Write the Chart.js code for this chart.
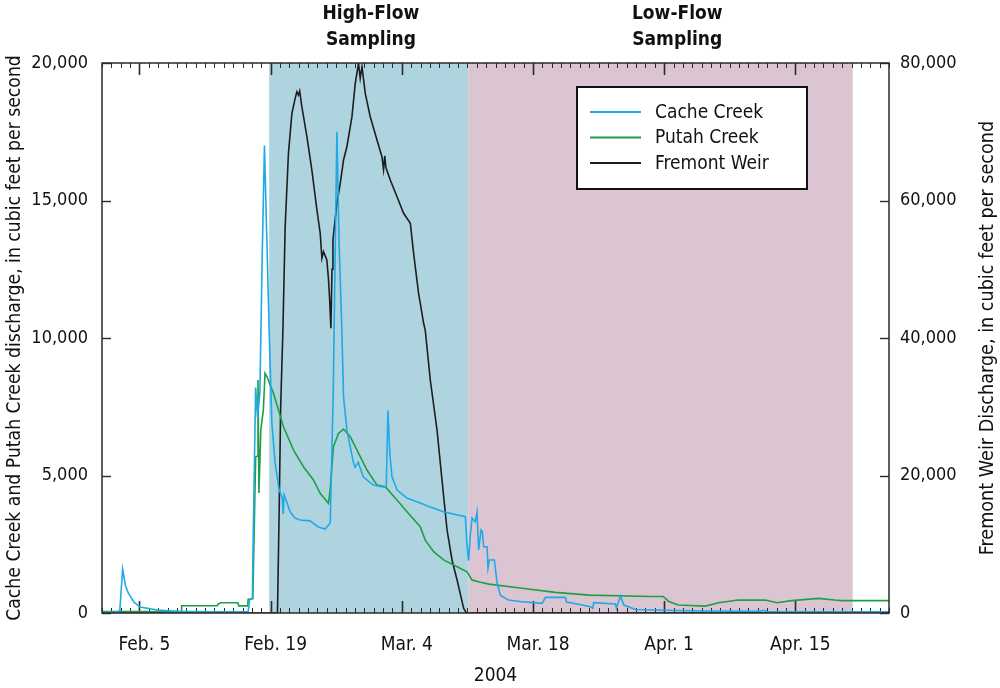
<!DOCTYPE html>
<html>
<head>
<meta charset="utf-8">
<script src="https://cdn.jsdelivr.net/npm/chart.js@4.4.1/dist/chart.umd.min.js"></script>
<style>
html,body{margin:0;padding:0;background:#fff}
#wrap{width:1000px;height:688px;position:relative}
</style>
</head>
<body>
<div id="wrap"><canvas id="c" width="1000" height="688"></canvas></div>
<script>
// ---- Data (x = days since Feb. 1, 2004) ----
const cacheDays = [0,1.5,1.9,2.2,2.5,2.8,3.4,4.06,5.9,8,12,15.6,15.75,16.05,16.15,16.4,16.6,16.85,17.1,17.34,17.6,17.84,18.13,18.48,18.91,19.23,19.34,19.44,20.09,20.6,21.15,22.22,23.08,23.82,24.36,24.68,25.07,25.3,25.6,25.78,26.14,26.85,27.0,27.35,27.88,28.95,30.02,30.34,30.52,30.72,30.95,31.49,32.55,33.97,35.04,36.43,37.5,38.78,38.95,39.13,39.3,39.5,39.85,40.03,40.2,40.46,40.6,40.74,41.1,41.2,41.35,41.88,42.17,42.52,43.38,44.84,46.98,47.33,49.47,49.57,50.72,52.14,52.38,52.49,54.8,54.9,55.34,55.7,56.94,59.08,63.9,70.3,70.6,71,84];
const cacheFlow = [30,30,80,1600,1000,730,400,220,110,60,40,50,470,550,3000,8200,7100,8000,13000,17000,13500,10300,6900,5450,4470,4200,3600,4300,3670,3450,3380,3350,3130,3050,3270,8000,17500,13500,10300,7860,6650,5450,5300,5480,4950,4650,4580,4600,7360,5800,4960,4470,4180,4000,3850,3680,3600,3500,2500,1900,2800,3450,3320,3660,2290,3020,2960,2410,2410,1640,1930,1930,1090,650,470,410,350,570,570,400,330,230,170,375,330,170,620,290,130,110,70,60,100,50,40];

const putahDays = [0,8.45,8.5,12.3,12.4,12.7,14.5,14.6,15.55,15.6,16.1,16.4,16.55,16.65,16.75,16.95,17.22,17.4,17.6,18.3,19.37,20.43,21.5,22.57,23.29,24.17,24.35,24.7,25.24,25.78,26.5,27.2,28.28,29.35,30.24,31.48,32.55,33.97,34.5,35.4,36.46,37.9,38.96,39.5,40.4,41.3,44.84,48.4,52,58.55,59.9,60.5,61.5,64.4,65.8,67.9,70.8,72.04,73.6,76.5,78.2,79,84];
const putahFlow = [50,50,265,265,330,375,375,260,260,500,520,5680,5700,8470,4360,6650,7380,8720,8600,7990,6770,5930,5320,4840,4350,3990,4470,6050,6530,6690,6410,5930,5200,4650,4590,4110,3680,3140,2650,2230,1930,1680,1500,1200,1115,1050,900,750,650,600,600,420,290,250,370,470,470,375,450,530,470,450,450];

const fremontDays = [0,18.73,18.91,19.07,19.31,19.55,19.9,20.27,20.62,20.8,20.97,21.1,21.33,21.87,22.4,22.94,23.29,23.47,23.64,24.0,24.18,24.3,24.43,24.55,24.65,25.07,25.43,25.78,26.14,26.68,27.03,27.38,27.56,27.75,28.1,28.63,29.35,29.88,30.05,30.18,30.3,30.77,31.49,32.19,32.91,33.26,33.79,34.33,34.5,35.04,35.76,36.29,36.83,37.36,37.9,38.6,38.89,84];
const fremontFlow = [0,0,15000,30000,41160,56200,66860,72680,74860,75800,75340,75900,73640,69280,64430,58620,55230,51590,52560,51340,48430,45500,41410,50000,54250,59590,62500,65890,67820,72190,77040,79950,77770,79460,75590,72190,68800,66370,64500,66500,64800,62980,60550,58140,56680,52320,46500,42140,41160,33890,26620,19350,12070,7710,4800,680,0,0];

const xTickDays = [4,18,32,46,60,74];
const xTickLabels = ['Feb. 5','Feb. 19','Mar. 4','Mar. 18','Apr. 1','Apr. 15'];

const phaseNames = [['High-Flow','Sampling'],['Low-Flow','Sampling']];
const phaseStart = [17.84, 39.1];
const phaseEnd = [39.1, 80.13];

const seriesNames = ['Cache Creek','Putah Creek','Fremont Weir'];
const seriesColors = ['#1fa9e6','#1f9e45','#1e1e1e'];

const FONT = "'Liberation Sans Narrow','DejaVu Sans Condensed','Arial Narrow',sans-serif";
const BOLD = "'DejaVu Sans Condensed','Liberation Sans',sans-serif";
const TXT = '#111';

const toXY = (xs, ys) => xs.map((d, i) => ({x: d, y: ys[i]}));

const decor = {
  id: 'decor',
  beforeDatasetsDraw(chart, args, opts) {
    const {ctx, chartArea: ca, scales: {x, y, y2}} = chart;
    ctx.save();
    phaseStart.forEach((s, i) => {
      const x0 = x.getPixelForValue(s), x1 = x.getPixelForValue(phaseEnd[i]);
      ctx.fillStyle = opts.phaseColors[i];
      ctx.fillRect(x0, ca.top, x1 - x0, ca.bottom - ca.top);
    });
    ctx.strokeStyle = '#2a2a2a';
    for (let d = Math.ceil(x.min); d <= x.max; d++) {
      const px = Math.round(x.getPixelForValue(d)) + 0.5;
      const major = xTickDays.includes(d);
      const len = major ? 12 : 5;
      ctx.lineWidth = major ? 1.6 : 1;
      ctx.beginPath();
      ctx.moveTo(px, ca.bottom); ctx.lineTo(px, ca.bottom - len);
      ctx.moveTo(px, ca.top); ctx.lineTo(px, ca.top + len);
      ctx.stroke();
    }
    ctx.lineWidth = 1.4;
    y.ticks.forEach(t => {
      const py = Math.round(y.getPixelForValue(t.value)) + 0.5;
      ctx.beginPath(); ctx.moveTo(ca.left, py); ctx.lineTo(ca.left + 9, py); ctx.stroke();
    });
    y2.ticks.forEach(t => {
      const py = Math.round(y2.getPixelForValue(t.value)) + 0.5;
      ctx.beginPath(); ctx.moveTo(ca.right, py); ctx.lineTo(ca.right - 9, py); ctx.stroke();
    });
    ctx.restore();
  },
  afterDatasetsDraw(chart, args, opts) {
    const {ctx, chartArea: ca} = chart;
    ctx.save();
    ctx.strokeStyle = '#2a2a2a';
    ctx.lineWidth = 1.5;
    ctx.strokeRect(ca.left, ca.top, ca.right - ca.left, ca.bottom - ca.top);
    const bx = ca.left + opts.legendX, by = ca.top + opts.legendY;
    ctx.fillStyle = '#fff';
    ctx.fillRect(bx, by, opts.legendW, opts.legendH);
    ctx.strokeStyle = '#111';
    ctx.lineWidth = 2;
    ctx.strokeRect(bx, by, opts.legendW, opts.legendH);
    ctx.font = '19px ' + FONT;
    ctx.textBaseline = 'middle';
    ctx.textAlign = 'left';
    chart.data.datasets.forEach((ds, i) => {
      const ry = by + 25 + i * 25.5;
      ctx.strokeStyle = ds.borderColor;
      ctx.lineWidth = 2;
      ctx.beginPath(); ctx.moveTo(bx + 13, ry); ctx.lineTo(bx + 64, ry); ctx.stroke();
      ctx.fillStyle = TXT;
      ctx.fillText(ds.label, bx + 78, ry + 1);
    });
    ctx.restore();
  },
  afterDraw(chart, args, opts) {
    const {ctx, chartArea: ca, scales: {x}} = chart;
    ctx.save();
    ctx.fillStyle = TXT;
    ctx.font = 'bold 19px ' + BOLD;
    ctx.textAlign = 'center';
    ctx.textBaseline = 'alphabetic';
    phaseNames.forEach((lines, i) => {
      const px = x.getPixelForValue(opts.headingDays[i]);
      lines.forEach((ln, j) => ctx.fillText(ln, px, 19 + j * 26));
    });
    ctx.font = '19.6px ' + FONT;
    ctx.textBaseline = 'middle';
    ctx.translate(988, (ca.top + ca.bottom) / 2);
    ctx.rotate(-Math.PI / 2);
    ctx.fillText(opts.rightTitle, 0, 0);
    ctx.restore();
  }
};

new Chart(document.getElementById('c'), {
  type: 'line',
  data: {
    datasets: [
      {label: seriesNames[0], data: toXY(cacheDays, cacheFlow), borderColor: seriesColors[0], yAxisID: 'y'},
      {label: seriesNames[1], data: toXY(putahDays, putahFlow), borderColor: seriesColors[1], yAxisID: 'y'},
      {label: seriesNames[2], data: toXY(fremontDays, fremontFlow), borderColor: seriesColors[2], yAxisID: 'y2'}
    ]
  },
  options: {
    responsive: false,
    animation: false,
    elements: {
      point: {radius: 0},
      line: {borderWidth: 1.6, tension: 0, fill: false}
    },
    layout: {padding: {top: 63, left: 0, right: 0, bottom: 0}},
    plugins: {
      legend: {display: false},
      tooltip: {enabled: false},
      decor: {
        phaseColors: ['#aed4df', '#dcc5d3'],
        headingDays: [28.7, 61.4],
        legendX: 475, legendY: 24, legendW: 230, legendH: 102,
        rightTitle: 'Fremont Weir Discharge, in cubic feet per second'
      }
    },
    scales: {
      x: {
        type: 'linear', min: 0, max: 84,
        grid: {display: false, drawTicks: false},
        border: {display: false},
        afterBuildTicks: s => { s.ticks = xTickDays.map(v => ({value: v})); },
        afterFit: s => { s.height = 75; },
        ticks: {
          callback: (v, i) => xTickLabels[i],
          font: {family: FONT, size: 19},
          color: TXT,
          padding: 21,
          labelOffset: 5,
          maxRotation: 0, autoSkip: false
        },
        title: {display: true, text: '2004', font: {family: FONT, size: 19}, color: TXT, padding: {top: 0, bottom: 1}}
      },
      y: {
        position: 'left', min: 0, max: 20000,
        grid: {display: false, drawTicks: false},
        border: {display: false},
        afterFit: s => { s.width = 102; },
        ticks: {
          stepSize: 5000,
          callback: v => v.toLocaleString('en-US'),
          font: {family: FONT, size: 18},
          color: TXT,
          padding: 14
        },
        title: {display: true, text: 'Cache Creek and Putah Creek discharge, in cubic feet per second', font: {family: FONT, size: 19.2}, color: TXT, padding: {top: 3, bottom: 0}}
      },
      y2: {
        position: 'right', min: 0, max: 80000,
        grid: {display: false, drawTicks: false},
        border: {display: false},
        afterFit: s => { s.width = 111; },
        ticks: {
          stepSize: 20000,
          callback: v => v.toLocaleString('en-US'),
          font: {family: FONT, size: 18},
          color: TXT,
          padding: 11
        }
      }
    }
  },
  plugins: [decor]
});
</script>
</body>
</html>
